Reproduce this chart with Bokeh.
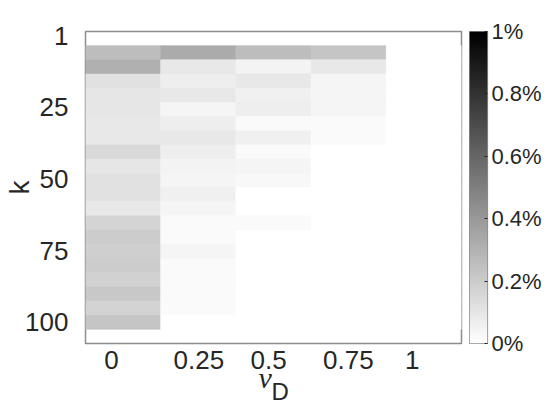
import numpy as np
from bokeh.plotting import figure
from bokeh.layouts import row
from bokeh.models import (Range1d, FixedTicker, CustomJSTickFormatter, LinearColorMapper,
                          Title, ColumnDataSource)
from bokeh.transform import transform
from bokeh.embed import file_html
from bokeh.resources import INLINE

# ---- data (values in %) ----
nu_D = [0, 0.25, 0.5, 0.75, 1]
k_bins = [5, 10, 15, 20, 25, 30, 35, 40, 45, 50, 55, 60, 65, 70, 75, 80, 85, 90, 95, 100]
share_nu_0 = [0.26, 0.31, 0.12, 0.10, 0.10, 0.09, 0.09, 0.15, 0.10, 0.12,
              0.12, 0.09, 0.17, 0.20, 0.19, 0.20, 0.18, 0.215, 0.175, 0.23]
share_nu_025 = [0.33, 0.09, 0.067, 0.09, 0.04, 0.067, 0.09, 0.067, 0.05, 0.04,
                0.06, 0.04, 0.02, 0.02, 0.04, 0.02, 0.02, 0.02, 0.02, 0.0]
share_nu_05 = [0.26, 0.05, 0.09, 0.06, 0.067, 0.02, 0.06, 0.02, 0.04, 0.03,
               0.0, 0.0, 0.02, 0.0, 0.0, 0.0, 0.0, 0.0, 0.0, 0.0]
share_nu_075 = [0.23, 0.09, 0.04, 0.04, 0.04, 0.02, 0.02, 0.0, 0.0, 0.0,
                0.0, 0.0, 0.0, 0.0, 0.0, 0.0, 0.0, 0.0, 0.0, 0.0]
share_nu_1 = [0.0, 0.0, 0.0, 0.0, 0.0, 0.0, 0.0, 0.0, 0.0, 0.0,
              0.0, 0.0, 0.0, 0.0, 0.0, 0.0, 0.0, 0.0, 0.0, 0.0]

x_tick_labels = ["0", "0.25", "0.5", "0.75", "1"]
y_tick_labels = ["1", "25", "50", "75", "100"]
cbar_ticks = [0, 0.2, 0.4, 0.6, 0.8, 1]
cbar_tick_labels = ["0%", "0.2%", "0.4%", "0.6%", "0.8%", "1%"]
cbar_low, cbar_high = 0, 1

# tick placement (layout, as in the reference picture)
x_tick_pos = [-0.039, 0.252, 0.484, 0.749, 0.961]
y_tick_pos = [-1, 24, 49.5, 75, 100]

columns = [share_nu_0, share_nu_025, share_nu_05, share_nu_075, share_nu_1]
xs, ys, vs = [], [], []
for nu, col in zip(nu_D, columns):
    for k, v in zip(k_bins, col):
        xs.append(nu)
        ys.append(k)
        vs.append(v)
src = ColumnDataSource(dict(x=xs, y=ys, v=vs))

palette = ["#%02x%02x%02x" % (g, g, g) for g in np.linspace(255, 0, 256).round().astype(int)]
mapper = LinearColorMapper(palette=palette, low=cbar_low, high=cbar_high)

FONT = "Liberation Sans"
TXT = "#262626"
EDGE = "#8c8c8c"

# ---------------- main heat map ----------------
p = figure(width=469, height=404,
           x_range=Range1d(-0.125, 1.125), y_range=Range1d(107.5, -2.5),
           output_backend="svg", toolbar_location=None,
           min_border_left=85, min_border_right=8, min_border_top=31, min_border_bottom=61)
p.background_fill_color = "white"
p.border_fill_color = "white"
p.outline_line_color = EDGE
p.outline_line_width = 1.5
p.grid.visible = False

p.rect(x="x", y="y", width=0.25, height=5, source=src,
       fill_color=transform("v", mapper), line_color=transform("v", mapper), line_width=0.6)

for ax in (p.xaxis[0], p.yaxis[0]):
    ax.axis_line_color = None
    ax.major_tick_line_color = None
    ax.minor_tick_line_color = None
    ax.major_tick_out = 0
    ax.major_tick_in = 0
    ax.minor_tick_out = 0
    ax.minor_tick_in = 0
    ax.major_label_text_font = FONT
    ax.major_label_text_font_size = "26px"
    ax.major_label_text_color = TXT

p.xaxis.ticker = FixedTicker(ticks=x_tick_pos)
p.xaxis.formatter = CustomJSTickFormatter(args=dict(labels=x_tick_labels), code="return labels[index];")
p.xaxis.major_label_standoff = 7

p.yaxis.ticker = FixedTicker(ticks=y_tick_pos)
p.yaxis.formatter = CustomJSTickFormatter(args=dict(labels=y_tick_labels), code="return labels[index];")
p.yaxis.major_label_standoff = 17
p.yaxis.axis_label = "k"
p.yaxis.axis_label_text_font = FONT
p.yaxis.axis_label_text_font_size = "28px"
p.yaxis.axis_label_text_font_style = "normal"
p.yaxis.axis_label_text_color = TXT
p.yaxis.axis_label_standoff = -13

# x-axis title: italic nu with subscript D
t_nu = Title(text="ν", align="left", vertical_align="top", offset=173, standoff=-22,
             text_font="Liberation Serif", text_font_style="italic", text_font_size="30px",
             text_color=TXT)
t_d = Title(text="D", align="left", vertical_align="top", offset=186, standoff=-13,
            text_font=FONT, text_font_style="normal", text_font_size="24px", text_color=TXT)
p.add_layout(t_nu, "below")
p.add_layout(t_d, "below")

# ---------------- colour scale ----------------
cb = figure(width=75, height=404,
            x_range=Range1d(0, 1), y_range=Range1d(cbar_low, cbar_high),
            output_backend="svg", toolbar_location=None,
            x_axis_location=None, y_axis_location="right",
            min_border_left=0, min_border_right=54, min_border_top=31, min_border_bottom=61)
cb.background_fill_color = "white"
cb.border_fill_color = "white"
cb.outline_line_color = EDGE
cb.outline_line_width = 1.2
cb.grid.visible = False
gradient = np.linspace(cbar_low, cbar_high, 256).reshape(-1, 1)
cb.image(image=[gradient], x=0, y=cbar_low, dw=1, dh=cbar_high - cbar_low, color_mapper=mapper)

cax = cb.yaxis[0]
cax.ticker = FixedTicker(ticks=cbar_ticks)
cax.formatter = CustomJSTickFormatter(args=dict(labels=cbar_tick_labels), code="return labels[index];")
cax.axis_line_color = None
cax.major_tick_in = 3
cax.major_tick_out = 0
cax.major_tick_line_color = TXT
cax.minor_tick_line_color = None
cax.major_label_standoff = 4
cax.major_label_text_font = FONT
cax.major_label_text_font_size = "22px"
cax.major_label_text_color = TXT

layout = row(p, cb)
layout.spacing = 0

open("out.html", "w").write(file_html(layout, INLINE))
